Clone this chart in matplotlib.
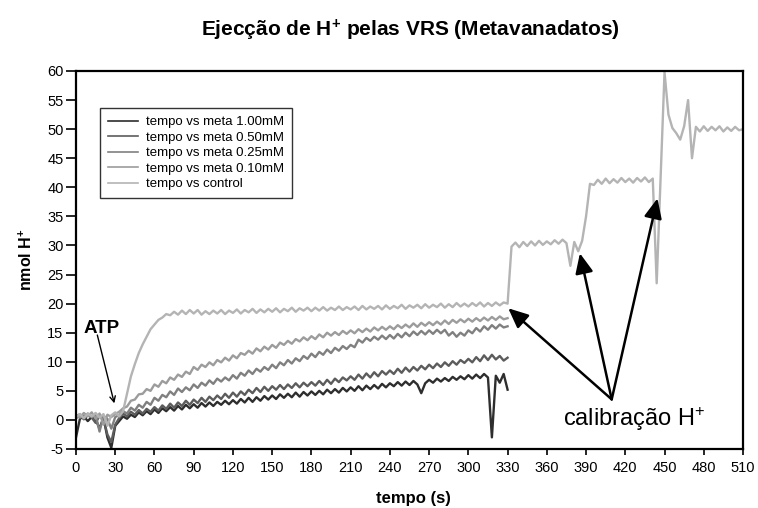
import numpy as np
import matplotlib
matplotlib.use('Agg')
import matplotlib.pyplot as plt

plt.rcParams['font.family'] = ['Liberation Sans', 'DejaVu Sans']
plt.rcParams['mathtext.fontset'] = 'custom'
plt.rcParams['mathtext.rm'] = 'Liberation Sans'
plt.rcParams['mathtext.bf'] = 'Liberation Sans:bold'
plt.rcParams['mathtext.it'] = 'Liberation Sans:italic'
plt.rcParams['axes.unicode_minus'] = False

t_meta = np.arange(0, 331, 3)
t_ctrl = np.arange(0, 511, 3)

meta_100 = [
    -3.0, 0.2, 0.6, -0.2, 0.5, 0.1, -1.5, 0.4, -3.0, -4.8,
    -1.0, -0.2, 0.6, 0.2, 0.9, 0.5, 1.3, 0.8, 1.5, 1.0,
    1.8, 1.2, 2.0, 1.5, 2.2, 1.6, 2.4, 1.8, 2.6, 2.0,
    2.7, 2.1, 2.9, 2.3, 3.0, 2.4, 3.1, 2.6, 3.3, 2.7,
    3.4, 2.8, 3.6, 3.0, 3.8, 3.1, 3.9, 3.3, 4.1, 3.5,
    4.2, 3.6, 4.4, 3.8, 4.5, 3.9, 4.7, 4.0, 4.8, 4.2,
    4.9, 4.3, 5.0, 4.4, 5.2, 4.6, 5.3, 4.7, 5.5, 4.9,
    5.6, 5.0, 5.8, 5.1, 5.9, 5.3, 6.0, 5.4, 6.2, 5.6,
    6.3, 5.8, 6.5, 5.9, 6.6, 6.0, 6.7, 6.1, 4.6, 6.3,
    6.9, 6.4, 7.1, 6.6, 7.2, 6.7, 7.4, 6.9, 7.5, 7.0,
    7.7, 7.1, 7.8, 7.2, 7.9, 7.3, -3.0, 7.6, 6.4, 7.9,
    5.2]

meta_050 = [
    0.3, 0.8, 0.1, 0.9, 0.4, -0.5, 0.7, 0.2, -2.5, -3.8,
    -0.8, 0.3, 1.1, 0.6, 1.4, 0.9, 1.7, 1.1, 1.9, 1.4,
    2.2, 1.6, 2.5, 1.9, 2.8, 2.1, 3.0, 2.4, 3.3, 2.6,
    3.5, 2.9, 3.8, 3.1, 4.0, 3.4, 4.2, 3.6, 4.5, 3.8,
    4.7, 4.0, 4.9, 4.3, 5.2, 4.6, 5.5, 4.8, 5.7, 5.0,
    5.8, 5.2, 6.0, 5.3, 6.1, 5.5, 6.3, 5.6, 6.4, 5.8,
    6.5, 5.9, 6.7, 6.0, 6.9, 6.2, 7.1, 6.5, 7.3, 6.8,
    7.5, 6.9, 7.8, 7.1, 8.0, 7.3, 8.2, 7.5, 8.4, 7.8,
    8.5, 7.9, 8.8, 8.1, 9.0, 8.3, 9.1, 8.5, 9.3, 8.7,
    9.5, 8.9, 9.7, 9.1, 9.9, 9.3, 10.1, 9.5, 10.3, 9.8,
    10.5, 9.9, 10.8, 10.1, 11.1, 10.3, 11.2, 10.4, 11.0, 10.2,
    10.7]

meta_025 = [
    0.6, 1.0, 0.3, 1.1, 0.5, 0.9, -2.0, 0.7, 0.2, -1.5,
    0.5, 0.8, 1.5, 1.1, 2.1, 1.6, 2.6, 2.1, 3.1, 2.6,
    3.8, 3.3, 4.3, 3.9, 4.9, 4.3, 5.4, 4.8, 5.6, 5.1,
    6.1, 5.5, 6.4, 5.9, 6.8, 6.2, 7.1, 6.6, 7.3, 6.8,
    7.7, 7.1, 8.1, 7.6, 8.5, 7.9, 8.8, 8.3, 9.1, 8.6,
    9.5, 8.9, 9.9, 9.4, 10.3, 9.7, 10.6, 10.1, 11.0, 10.5,
    11.4, 10.8, 11.7, 11.2, 12.1, 11.5, 12.4, 11.9, 12.7, 12.2,
    12.9, 12.5, 13.8, 13.3, 14.1, 13.6, 14.3, 13.8, 14.5, 13.9,
    14.6, 14.0, 14.8, 14.2, 15.0, 14.4, 15.2, 14.6, 15.3, 14.7,
    15.4, 14.8, 15.5, 14.9, 15.5, 14.5, 15.1, 14.3, 15.0, 14.5,
    15.4, 14.9, 15.8, 15.2, 16.1, 15.5, 16.3, 15.7, 16.4, 15.9,
    16.1]

meta_010 = [
    0.8, 0.4, 1.2, 0.6, 1.3, 0.2, 1.1, -0.8, 0.9, 0.5,
    1.0, 1.4, 2.0, 2.3, 3.3, 3.5, 4.4, 4.5, 5.3, 5.0,
    6.1, 5.7, 6.7, 6.3, 7.3, 6.9, 7.8, 7.4, 8.3, 7.9,
    9.1, 8.6, 9.5, 9.1, 9.9, 9.4, 10.3, 9.9, 10.7, 10.2,
    11.1, 10.6, 11.5, 11.2, 11.9, 11.4, 12.3, 11.8, 12.6, 12.1,
    12.9, 12.4, 13.3, 12.9, 13.6, 13.1, 13.9, 13.5, 14.2, 13.7,
    14.4, 13.9, 14.7, 14.2, 15.0, 14.5, 15.1, 14.6, 15.3, 14.8,
    15.4, 14.9, 15.6, 15.1, 15.7, 15.2, 15.9, 15.4, 16.0, 15.5,
    16.1, 15.6, 16.3, 15.8, 16.4, 15.9, 16.6, 16.0, 16.7, 16.2,
    16.8, 16.3, 16.9, 16.4, 17.1, 16.5, 17.2, 16.7, 17.3, 16.8,
    17.4, 16.9, 17.5, 17.0, 17.6, 17.1, 17.7, 17.2, 17.8, 17.3,
    17.5]

control = [
    0.5, 1.0, 0.3, 1.1, 0.6, 1.2, 0.4, 1.0, -1.0, 0.8,
    1.3, 0.6, 1.5, 4.5, 7.5, 9.6, 11.5, 13.0, 14.3, 15.6,
    16.4, 17.2, 17.6, 18.2, 18.0, 18.6, 18.1, 18.8, 18.2, 18.9,
    18.3, 18.9, 18.1, 18.7, 18.2, 18.8, 18.3, 18.9, 18.2, 18.8,
    18.4, 19.0, 18.3, 18.9, 18.5, 19.1, 18.4, 19.0, 18.5, 19.1,
    18.6, 19.2, 18.5, 19.1, 18.7, 19.3, 18.6, 19.2, 18.8, 19.3,
    18.7, 19.3, 18.8, 19.4, 18.8, 19.3, 18.9, 19.5, 18.9, 19.4,
    19.0, 19.5, 18.9, 19.6, 19.0, 19.5, 19.1, 19.6, 19.0, 19.7,
    19.1, 19.6, 19.2, 19.8, 19.1, 19.7, 19.3, 19.8, 19.2, 19.9,
    19.3, 19.8, 19.4, 20.0, 19.3, 19.9, 19.4, 20.1, 19.5, 20.0,
    19.5, 20.1, 19.6, 20.2, 19.5, 20.1, 19.6, 20.2, 19.7, 20.2,
    20.0, 29.8, 30.5, 29.7, 30.6, 29.9, 30.7, 30.0, 30.8, 30.1,
    30.7, 30.2, 30.9, 30.3, 31.0, 30.4, 26.5, 30.6, 29.0, 30.8,
    35.0, 40.6, 40.4, 41.3, 40.6, 41.5, 40.7, 41.4, 40.8, 41.6,
    40.9, 41.5, 40.8, 41.6, 41.0, 41.7, 40.9, 41.5, 23.5, 41.8,
    59.8, 52.5, 50.2, 49.3, 48.2, 50.5, 55.0, 45.0, 50.4, 49.6,
    50.5, 49.7, 50.4, 49.8, 50.5, 49.6, 50.3, 49.7, 50.4, 49.8,
    50.0]

series_labels = ['tempo vs meta 1.00mM', 'tempo vs meta 0.50mM',
                 'tempo vs meta 0.25mM', 'tempo vs meta 0.10mM',
                 'tempo vs control']
series_colors = ['#2e2e2e', '#5c5c5c', '#808080', '#9c9c9c', '#b4b4b4']

x_ticks = list(range(0, 511, 30))
y_ticks = list(range(-5, 61, 5))

# ---------------- figure ----------------
W, H = 758, 508
fig = plt.figure(figsize=(W / 100, H / 100), dpi=100)
ax = fig.add_axes([76 / W, 1 - 449 / H, (743 - 76) / W, (449 - 71) / H])

ys = [meta_100, meta_050, meta_025, meta_010]
for y, lab, col in zip(ys, series_labels[:4], series_colors[:4]):
    ax.plot(t_meta, y, color=col, lw=1.7, label=lab)
ax.plot(t_ctrl, control, color=series_colors[4], lw=1.7, label=series_labels[4])

ax.set_xlim(0, 510)
ax.set_ylim(-5, 60)
ax.set_xticks(x_ticks)
ax.set_yticks(y_ticks)
ax.tick_params(axis='both', direction='out', width=1.2, colors='black',
               labelsize=10.5)
ax.tick_params(axis='x', length=4, pad=5)
ax.tick_params(axis='y', length=7, pad=2)
for s in ax.spines.values():
    s.set_linewidth(1.6)
    s.set_color('black')

leg = ax.legend(loc='upper left', bbox_to_anchor=(0.036, 0.902), fontsize=9.5,
                frameon=True, fancybox=False, edgecolor='black',
                borderaxespad=0, handlelength=2.25, handletextpad=0.65,
                labelspacing=0.25, borderpad=0.6)
leg.get_frame().set_linewidth(1.0)
for h in leg.get_lines():
    h.set_linewidth(1.2)

# ATP annotation
ax.text(6.1, 15.0, 'ATP', fontsize=13.5, fontweight='bold', ha='left', va='baseline')
ax.annotate('', xy=(29.3, 2.85), xytext=(16.3, 14.6),
            arrowprops=dict(arrowstyle='->', lw=1.0, color='black',
                            shrinkA=0, shrinkB=0))

# calibration annotation
conv = (409.6, 3.54)
tips = [(330.5, 19.2), (385.3, 28.65), (444.6, 38.1)]
for tip in tips:
    ax.annotate('', xy=tip, xytext=conv,
                arrowprops=dict(arrowstyle='-|>,head_length=1.0,head_width=0.45',
                                lw=1.8, color='black', mutation_scale=12,
                                shrinkA=0, shrinkB=0))
ax.text(372.6, -1.0, 'calibração H$^{+}$', fontsize=17, ha='left', va='baseline')

# titles / labels
fig.text(410 / W, 1 - 36.7 / H, 'Ejecção de H$^{\\mathbf{+}}$ pelas VRS (Metavanadatos)',
         ha='center', va='baseline', fontsize=15, fontweight='bold')
fig.text(26 / W, 1 - 260 / H, 'nmol H$^{\\mathbf{+}}$', rotation=90, ha='center',
         va='center', fontsize=11.5, fontweight='bold')
fig.text(413 / W, 1 - 503 / H, 'tempo (s)', ha='center', va='baseline',
         fontsize=12, fontweight='bold')

fig.savefig('out.png', dpi=100, facecolor='white')
